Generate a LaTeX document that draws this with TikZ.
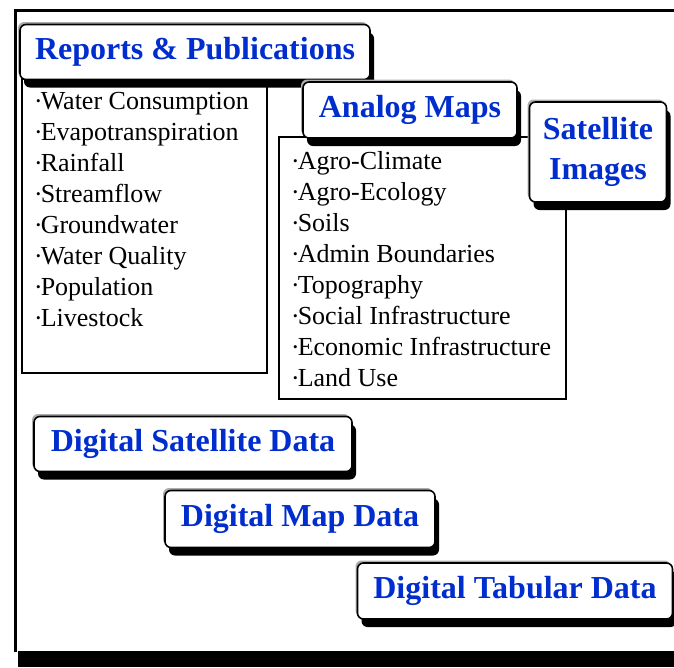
\documentclass[tikz,border=0pt]{standalone}
\usepackage{fontspec}
\usepackage{graphicx}
\setmainfont{Liberation Serif}
\usetikzlibrary{shadows}
\definecolor{btnblue}{RGB}{0,45,205}
\newcommand{\bul}{\raisebox{0.32ex}{\scalebox{0.5}{•}}}
\begin{document}
\begin{tikzpicture}[x=1pt,y=-1pt,
  btn/.style={draw=black, line width=1.6pt, fill=white, rounded corners=6pt,
    inner sep=0pt, text=btnblue, align=center,
    font=\fontsize{32}{40}\selectfont\bfseries,
    general shadow={fill=black, shadow xshift=4pt, shadow yshift=-8pt},
    general shadow={fill=gray!65, shadow xshift=-2pt, shadow yshift=2.5pt}},
  item/.style={anchor=base west, inner sep=0pt, font=\fontsize{26}{31}\selectfont},
  listbox/.style={draw=black, line width=2pt, anchor=north west, inner sep=0pt}]
\useasboundingbox (0,0) rectangle (674,667);
% outer frame
\coordinate (fbl) at (15,652);
\coordinate (ftl) at (15,10);
\coordinate (ftr) at (700,10);
\draw[line width=3pt] (fbl) -- (ftl) -- (ftr);
\fill (18,651) rectangle (700,667);
% list boxes
\node[listbox, minimum width=245pt, minimum height=294pt] (lbox) at (21,78) {};
\node[listbox, minimum width=287pt, minimum height=262pt] (rbox) at (278,136) {};
% left list
\node[item] (l1) at (36,109) {\bul Water Consumption};
\node[item] (l2) at (36,140) {\bul Evapotranspiration};
\node[item] (l3) at (36,171) {\bul Rainfall};
\node[item] (l4) at (36,202) {\bul Streamflow};
\node[item] (l5) at (36,233) {\bul Groundwater};
\node[item] (l6) at (36,264) {\bul Water Quality};
\node[item] (l7) at (36,295) {\bul Population};
\node[item] (l8) at (36,326) {\bul Livestock};
% right list
\node[item] (r1) at (293,169) {\bul Agro-Climate};
\node[item] (r2) at (293,200) {\bul Agro-Ecology};
\node[item] (r3) at (293,231) {\bul Soils};
\node[item] (r4) at (293,262) {\bul Admin Boundaries};
\node[item] (r5) at (293,293) {\bul Topography};
\node[item] (r6) at (293,324) {\bul Social Infrastructure};
\node[item] (r7) at (293,355) {\bul Economic Infrastructure};
\node[item] (r8) at (293,386) {\bul Land Use};
% buttons
\node[btn, minimum width=350pt, minimum height=55pt] (rep) at (195,52) {Reports \& Publications};
\node[btn, minimum width=214pt, minimum height=56pt] (ana) at (410,110) {Analog Maps};
\node[btn, minimum width=137pt, minimum height=100pt] (sat) at (598,152) {Satellite\\Images};
\node[btn, minimum width=318pt, minimum height=55pt] (dsd) at (193,444) {Digital Satellite Data};
\node[btn, minimum width=270pt, minimum height=57pt] (dmd) at (300,519) {Digital Map Data};
\node[btn, minimum width=315pt, minimum height=56pt] (dtd) at (515,591) {Digital Tabular Data};
\end{tikzpicture}
\end{document}
